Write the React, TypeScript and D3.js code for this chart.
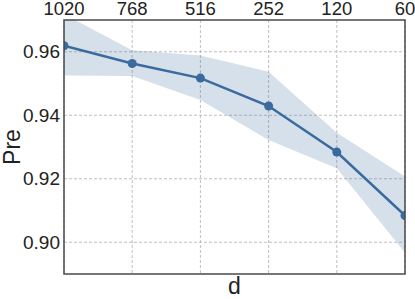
import * as d3 from "d3";
import { useEffect, useRef } from "react";

const dims = ["1020", "768", "516", "252", "120", "60"];
const preMean = [0.9619, 0.9563, 0.9517, 0.9429, 0.9284, 0.9084];
const preLow = [0.9525, 0.9524, 0.9448, 0.9322, 0.9233, 0.8967];
const preHigh = [0.9718, 0.9605, 0.9588, 0.9537, 0.9345, 0.9207];
const yTicks = [0.9, 0.92, 0.94, 0.96];

export default function App() {
    const ref = useRef<SVGSVGElement | null>(null);

    useEffect(() => {
        if (!ref.current) return;

        const width = 415;
        const height = 299;
        const margin = { top: 20, right: 10, bottom: 25, left: 64 };
        const lineColor = "#3b6b9e";
        const font = "'Liberation Sans', Arial, sans-serif";

        const svg = d3.select(ref.current);
        svg.selectAll("*").remove();

        const x = d3.scalePoint<string>()
            .domain(dims)
            .range([margin.left, width - margin.right])
            .padding(0);

        const y = d3.scaleLinear()
            .domain([0.89, 0.97])
            .range([height - margin.bottom, margin.top]);

        const rows = dims.map((d, i) => ({
            d,
            mean: preMean[i],
            lo: preLow[i],
            hi: preHigh[i],
        }));

        svg.append("defs")
            .append("clipPath")
            .attr("id", "plot-clip")
            .append("rect")
            .attr("x", margin.left)
            .attr("y", margin.top)
            .attr("width", width - margin.left - margin.right)
            .attr("height", height - margin.top - margin.bottom);

        // grid
        const grid = svg.append("g")
            .attr("stroke", "#b8b8b8")
            .attr("stroke-width", 0.9)
            .attr("stroke-dasharray", "3,2");
        grid.selectAll("line.v")
            .data(dims)
            .join("line")
            .attr("class", "v")
            .attr("x1", (d) => x(d)!)
            .attr("x2", (d) => x(d)!)
            .attr("y1", margin.top)
            .attr("y2", height - margin.bottom);
        grid.selectAll("line.h")
            .data(yTicks)
            .join("line")
            .attr("class", "h")
            .attr("x1", margin.left)
            .attr("x2", width - margin.right)
            .attr("y1", (d) => y(d))
            .attr("y2", (d) => y(d));

        const plot = svg.append("g").attr("clip-path", "url(#plot-clip)");

        // std band
        const area = d3.area<typeof rows[number]>()
            .x((r) => x(r.d)!)
            .y0((r) => y(r.lo))
            .y1((r) => y(r.hi));
        plot.append("path")
            .datum(rows)
            .attr("d", area)
            .attr("fill", lineColor)
            .attr("fill-opacity", 0.21);

        const line = d3.line<typeof rows[number]>()
            .x((r) => x(r.d)!)
            .y((r) => y(r.mean));
        plot.append("path")
            .datum(rows)
            .attr("d", line)
            .attr("fill", "none")
            .attr("stroke", lineColor)
            .attr("stroke-width", 2.5);

        plot.selectAll("circle")
            .data(rows)
            .join("circle")
            .attr("cx", (r) => x(r.d)!)
            .attr("cy", (r) => y(r.mean))
            .attr("r", 4.5)
            .attr("fill", lineColor);

        // frame
        svg.append("rect")
            .attr("x", margin.left)
            .attr("y", margin.top)
            .attr("width", width - margin.left - margin.right)
            .attr("height", height - margin.top - margin.bottom)
            .attr("fill", "none")
            .attr("stroke", "#4a4a4a")
            .attr("stroke-width", 1.5);

        // tick labels (x on top)
        svg.append("g")
            .selectAll("text")
            .data(dims)
            .join("text")
            .attr("x", (d) => x(d)!)
            .attr("y", 14.5)
            .attr("text-anchor", "middle")
            .attr("font-family", font)
            .attr("font-size", 18.5)
            .attr("fill", "#222")
            .text((d) => d);

        svg.append("g")
            .selectAll("text")
            .data(yTicks)
            .join("text")
            .attr("x", margin.left - 4)
            .attr("y", (d) => y(d))
            .attr("dy", "0.35em")
            .attr("text-anchor", "end")
            .attr("font-family", font)
            .attr("font-size", 19)
            .attr("fill", "#222")
            .text((d) => d3.format(".2f")(d));

        // axis titles
        svg.append("text")
            .attr("x", (margin.left + width - margin.right) / 2)
            .attr("y", 293.5)
            .attr("text-anchor", "middle")
            .attr("font-family", font)
            .attr("font-size", 23)
            .attr("fill", "#222")
            .text("d");

        svg.append("text")
            .attr("transform", `translate(20,${(margin.top + height - margin.bottom) / 2}) rotate(-90)`)
            .attr("text-anchor", "middle")
            .attr("font-family", font)
            .attr("font-size", 23)
            .attr("fill", "#222")
            .text("Pre");
    }, []);

    return (
        <svg
            ref={ref}
            width={415}
            height={299}
            style={{ position: "absolute", left: 0, top: 0, background: "white" }}
        ></svg>
    );
}
